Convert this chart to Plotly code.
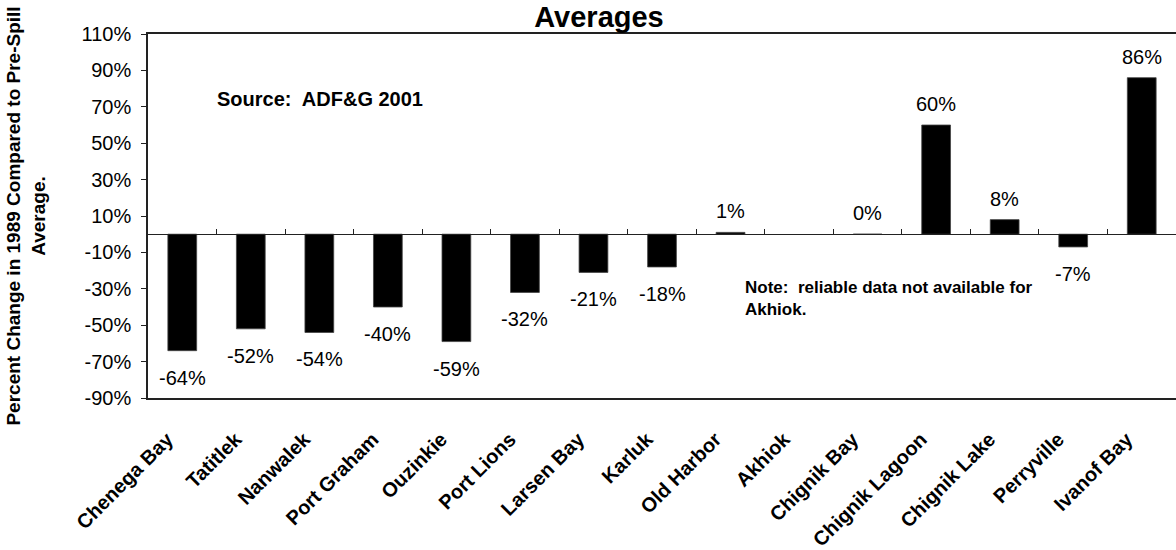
import plotly.graph_objects as go

sites = ["Chenega Bay", "Tatitlek", "Nanwalek", "Port Graham", "Ouzinkie",
         "Port Lions", "Larsen Bay", "Karluk", "Old Harbor", "Akhiok",
         "Chignik Bay", "Chignik Lagoon", "Chignik Lake", "Perryville", "Ivanof Bay"]
pct_change = [-64, -52, -54, -40, -59, -32, -21, -18, 1, None, 0, 60, 8, -7, 86]
y_ticks = list(range(-90, 111, 20))
y_tick_text = [f"{v}%" for v in y_ticks]

FONT = "Liberation Sans, Arial, sans-serif"

fig = go.Figure()
fig.add_trace(go.Bar(x=sites, y=pct_change, width=0.42,
                     marker=dict(color="black", line=dict(color="#444", width=0.8)),
                     hoverinfo="x+y"))
# invisible trace so the zero-line axis (with category boundary ticks) gets drawn
fig.add_trace(go.Scatter(x=sites, y=[0] * len(sites), xaxis="x2", mode="none",
                         hoverinfo="skip", showlegend=False))

# value labels, above positive bars and below negative ones
for s, v in zip(sites, pct_change):
    if v is None:
        continue
    fig.add_annotation(x=s, y=v, text=f"{v}%", showarrow=False,
                       yshift=21 if v >= 0 else -27,
                       font=dict(family=FONT, size=20, color="black"))

fig.add_annotation(xref="paper", yref="paper", x=0.065, y=0.821,
                   xanchor="left", yanchor="middle",
                   text="Source:  ADF&G 2001", showarrow=False,
                   font=dict(family=FONT, size=20, color="black", weight="bold"))
fig.add_annotation(xref="paper", yref="paper", x=0.579, y=0.273,
                   xanchor="left", yanchor="middle", align="left", showarrow=False,
                   text="Note:  reliable data not available for<br>Akhiok.",
                   font=dict(family=FONT, size=17, color="black", weight="bold"))

fig.update_layout(
    width=1176, height=550,
    margin=dict(l=148, r=0, t=34, b=152),
    paper_bgcolor="white", plot_bgcolor="white",
    showlegend=False, bargap=0.58,
    font=dict(family=FONT, color="black"),
    title=dict(text="Averages", x=0.4387, xref="paper", xanchor="center",
               y=1 - 17 / 550, yanchor="middle",
               font=dict(family=FONT, size=29, color="black", weight="bold")),
    xaxis=dict(type="category", categoryarray=sites, range=[-0.5, 14.5],
               showline=True, linecolor="#222", linewidth=1.5, mirror=True,
               ticks="", tickangle=-45, showgrid=False,
               ticklabelshift=-15, ticklabelstandoff=20,
               tickfont=dict(family=FONT, size=20, color="black", weight="bold")),
    xaxis2=dict(type="category", categoryarray=sites, range=[-0.5, 14.5],
                overlaying="x", anchor="free", position=0.45,
                showline=True, linecolor="#222", linewidth=1.2,
                ticks="inside", tickson="boundaries", ticklen=5, tickcolor="#222",
                showticklabels=False, showgrid=False),
    yaxis=dict(range=[-90, 110], tickmode="array", tickvals=y_ticks, ticktext=y_tick_text,
               showline=True, linecolor="#222", linewidth=1.5, mirror=False,
               ticks="outside", ticklen=5, tickcolor="#222", ticklabelstandoff=6,
               showgrid=False, zeroline=False,
               tickfont=dict(family=FONT, size=20, color="black"),
               title=dict(text="Percent Change in 1989 Compared to Pre-Spill<br>Average.",
                          standoff=31,
                          font=dict(family=FONT, size=19, color="black", weight="bold"))),
)

fig.write_html("out.html", config={"displayModeBar": False},
               post_script="document.body.style.margin='0';document.body.style.overflow='hidden';")
